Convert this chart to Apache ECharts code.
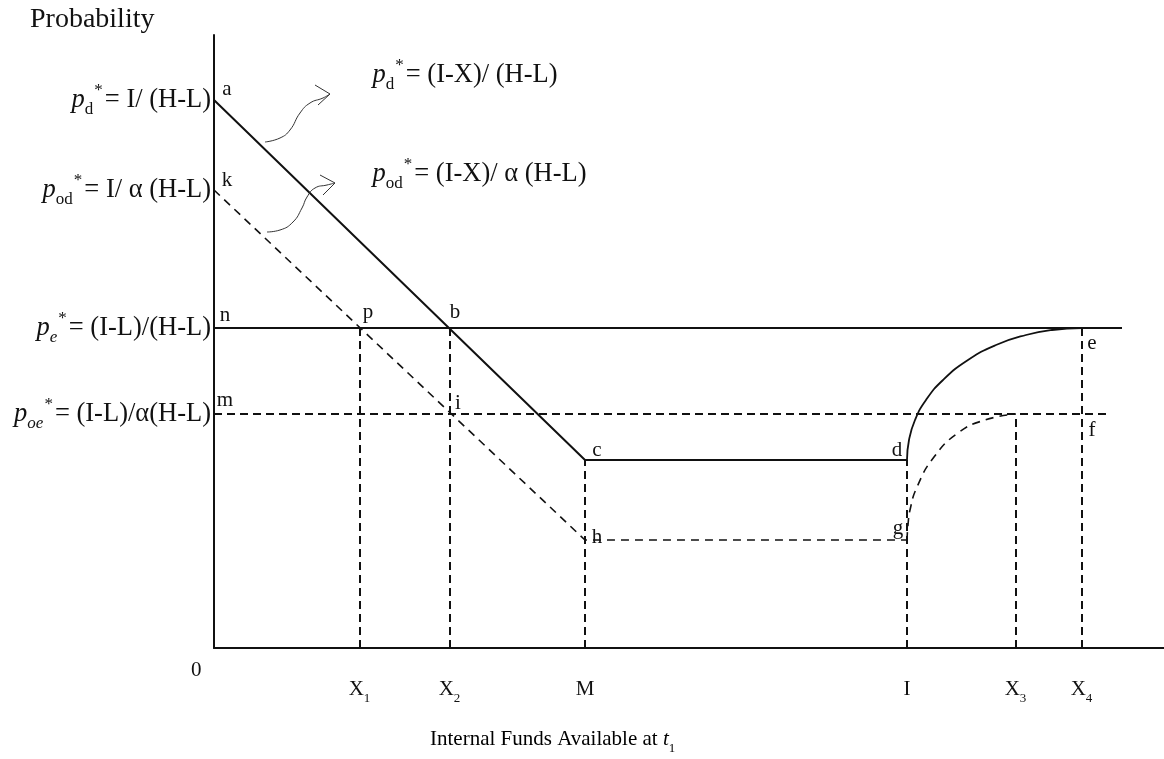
<!DOCTYPE html>
<html><head><meta charset="utf-8">
<script src="https://cdn.jsdelivr.net/npm/echarts@6/dist/echarts.min.js"></script>
<style>html,body{margin:0;padding:0;background:#fff}#c{width:1164px;height:759px}</style>
</head><body><div id="c"></div>
<script>
// ---------------- data (schematic units) ----------------
const xTickNames = ['X1', 'X2', 'M', 'I', 'X3', 'X4'];
const xTickValues = [146, 236, 371, 693, 802, 868];
const dropTops = [320, 320, 188, 188, 234, 320];
const yLevelNames = ['pd', 'pod', 'pe', 'poe'];
const yLevelValues = [548, 458, 320, 234];
const solidPath = [[0, 548], [371, 188], [693, 188]];
const dashedPath = [[0, 458], [371, 108], [693, 108]];
const peLine = [[0, 320], [908, 320]];
const poeLine = [[0, 234], [893, 234]];
const solidCurve = [[693, 188], [695, 208], [701, 228], [712, 248], [729, 268], [754, 288], [782, 303], [812, 313], [838, 318], [868, 320]];
const dashedCurve = [[693, 108], [694, 123], [696, 138], [703, 161], [720, 191], [744, 215], [771, 228], [802, 234]];
const pointNames = ['a', 'k', 'n', 'm', 'p', 'b', 'i', 'c', 'h', 'd', 'g', 'e', 'f'];
const pointX = [0, 0, 0, 0, 146, 236, 236, 371, 371, 693, 693, 868, 868];
const pointY = [548, 458, 320, 234, 320, 320, 234, 188, 108, 188, 108, 320, 234];
const arrow1 = [[51, 506], [66, 510], [76, 518], [86, 535], [96, 545], [109, 550], [116, 554]];
const arrow1Head = [[101, 563], [116, 554], [104, 543]];
const arrow2 = [[53, 416], [66, 418], [79, 426], [88, 440], [93, 451], [101, 460], [113, 463], [121, 465]];
const arrow2Head = [[106, 473], [121, 465], [109, 453]];
const noteNames = ['pdX', 'podX'];
const noteX = [158, 158];
const noteY = [573, 474];

// ---------------- text ----------------
const formulas = {
  pd: '{it|p}{sub|d}{sup|*}{n|= I/ (H-L)}',
  pod: '{it|p}{sub|od}{sup|*}{n|= I/ α (H-L)}',
  pe: '{it|p}{subi|e}{sup|*}{n|= (I-L)/(H-L)}',
  poe: '{it|p}{subi|oe}{sup|*}{n|= (I-L)/α(H-L)}',
  pdX: '{it|p}{sub|d}{sup|*}{n|= (I-X)/ (H-L)}',
  podX: '{it|p}{sub|od}{sup|*}{n|= (I-X)/ α (H-L)}'
};
const xTickText = {X1: '{n|X}{sub|1}', X2: '{n|X}{sub|2}', M: '{n|M}', I: '{n|I}', X3: '{n|X}{sub|3}', X4: '{n|X}{sub|4}'};

// ---------------- styles ----------------
const FONT = '"Liberation Serif", "Times New Roman", serif';
const INK = '#111';
const FS = 26.5;
function richSet(fs, ratio) {
  const s = Math.round(fs * (ratio || 0.64));
  return {
    n: {fontFamily: FONT, fontSize: fs, color: INK, lineHeight: fs + 10, verticalAlign: 'middle'},
    it: {fontFamily: FONT, fontSize: fs, fontStyle: 'italic', color: INK, lineHeight: fs + 10, verticalAlign: 'middle'},
    sub: {fontFamily: FONT, fontSize: s, color: INK, lineHeight: s + 2, verticalAlign: 'bottom', padding: [0, 1, 0, 0]},
    subi: {fontFamily: FONT, fontSize: s, fontStyle: 'italic', color: INK, lineHeight: s + 2, verticalAlign: 'bottom', padding: [0, 1, 0, 0]},
    sup: {fontFamily: FONT, fontSize: s, color: INK, lineHeight: s + 2, verticalAlign: 'top', padding: [0, 2, 0, 0]}
  };
}
const pointOffsets = {
  a: [13, -11], k: [13, -10], n: [11, -13], m: [11, -14], p: [8, -16], b: [5, -16], i: [8, -11],
  c: [12, -10], h: [12, -3], d: [-10, -10], g: [-9, -12], e: [10, 15], f: [10, 16]
};
const solid = {color: INK, width: 2, type: 'solid'};
const dash = {color: INK, width: 2, type: [8, 5]};
const dashThin = {color: INK, width: 1.6, type: [8, 6]};

function lineSeries(data, style, smooth) {
  return {
    type: 'line', data: data, showSymbol: false, symbol: 'none', smooth: smooth || false,
    lineStyle: style, silent: true, z: 3
  };
}

const series = [];
series.push(lineSeries(solidPath, solid));
series.push(lineSeries(dashedPath, dashThin));
series.push(lineSeries(peLine, solid));
series.push(lineSeries(poeLine, dash));
series.push(lineSeries(solidCurve, {color: INK, width: 1.8}, true));
series.push(lineSeries(dashedCurve, dashThin, true));
xTickValues.forEach(function (xv, i) {
  series.push(lineSeries([[xv, 0], [xv, dropTops[i]]], dash));
});
series.push(lineSeries(arrow1, {color: '#333', width: 1}, true));
series.push(lineSeries(arrow1Head, {color: '#333', width: 1}));
series.push(lineSeries(arrow2, {color: '#333', width: 1}, true));
series.push(lineSeries(arrow2Head, {color: '#333', width: 1}));

const hiddenItem = {color: 'rgba(0,0,0,0)', opacity: 1};
// point letters
series.push({
  type: 'scatter', symbolSize: 1, itemStyle: hiddenItem, silent: true, z: 5,
  data: pointNames.map(function (nm, i) {
    return {
      value: [pointX[i], pointY[i]],
      label: {show: true, position: 'inside', offset: pointOffsets[nm], formatter: nm, opacity: 1,
        textBorderWidth: 0, fontFamily: FONT, fontSize: 21, color: INK}
    };
  })
});
// note formulas
series.push({
  type: 'scatter', symbolSize: 1, itemStyle: hiddenItem, silent: true, z: 5,
  data: noteNames.map(function (nm, i) {
    return {
      value: [noteX[i], noteY[i]],
      label: {show: true, position: 'right', distance: 0, opacity: 1, textBorderWidth: 0,
        formatter: formulas[nm], rich: richSet(FS)}
    };
  })
});

const option = {
  animation: false,
  backgroundColor: '#fff',
  grid: {left: 214, right: 0, top: 35, bottom: 111, containLabel: false},
  xAxis: {
    type: 'value', min: 0, max: 950,
    axisLine: {show: true, onZero: false, lineStyle: {color: INK, width: 2}},
    axisTick: {show: false}, splitLine: {show: false},
    axisLabel: {
      customValues: xTickValues, margin: 26,
      formatter: function (v) { return xTickText[xTickNames[xTickValues.indexOf(v)]] || ''; },
      rich: richSet(21)
    }
  },
  yAxis: {
    type: 'value', min: 0, max: 613,
    axisLine: {show: true, onZero: false, lineStyle: {color: INK, width: 2}},
    axisTick: {show: false}, splitLine: {show: false},
    axisLabel: {
      customValues: yLevelValues, margin: 3,
      formatter: function (v) { return formulas[yLevelNames[yLevelValues.indexOf(v)]] || ''; },
      rich: richSet(FS)
    }
  },
  graphic: [
    {type: 'text', left: 30, top: 6, style: {text: 'Probability', font: '28px ' + FONT, fill: INK}},
    {type: 'text', left: 191, top: 660, style: {text: '0', font: '21px ' + FONT, fill: INK}},
    {type: 'text', left: 430, top: 729, style: {
      text: '{n|Internal Funds Available at }{it|t}{sub|1}', rich: richSet(21)}}
  ],
  series: series
};
const chart = echarts.init(document.getElementById('c'), null, {renderer: 'canvas'});
chart.setOption(option);
</script></body></html>
